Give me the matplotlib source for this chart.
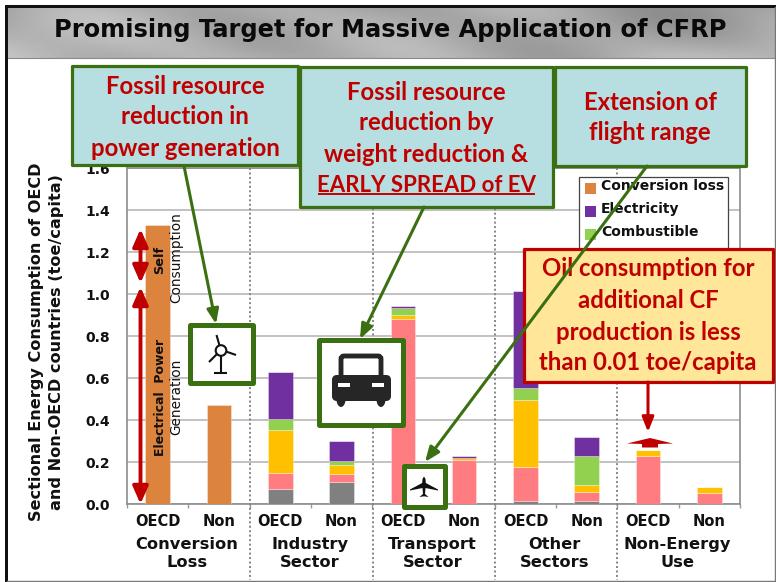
import numpy as np
import matplotlib
matplotlib.use("Agg")
import matplotlib.pyplot as plt
from matplotlib.patches import Rectangle, Polygon, Circle, Ellipse, FancyBboxPatch

W, H = 776, 582
bar_labels = ["OECD", "Non"] * 5
groups = ["Conversion\nLoss", "Industry\nSector", "Transport\nSector", "Other\nSectors", "Non-Energy\nUse"]
other = [0, 0, 0.073, 0.106, 0, 0, 0.014, 0.014, 0, 0.002]
oil_a = [0, 0, 0.077, 0.037, 0.881, 0.21, 0.162, 0.043, 0.23, 0.05]
oil_b = [0, 0, 0.202, 0.042, 0.019, 0.01, 0.319, 0.033, 0.027, 0.028]
combustible = [0, 0, 0.052, 0.02, 0.035, 0.0, 0.057, 0.138, 0, 0]
electricity = [0, 0, 0.224, 0.095, 0.008, 0.008, 0.462, 0.091, 0, 0]
conversion = [1.33, 0.47, 0, 0, 0, 0, 0, 0, 0, 0]
series = [(other, "#808080"), (oil_a, "#FF7C80"), (oil_b, "#FFC000"),
          (combustible, "#92D050"), (electricity, "#7030A0"), (conversion, "#DC843E")]
yticks = [0.0, 0.2, 0.4, 0.6, 0.8, 1.0, 1.2, 1.4, 1.6]

GREEN, RED = "#3B7012", "#C00000"
TEAL, CREAM = "#B7DEE1", "#FFE699"
LAB = "#111111"
FB = "DejaVu Sans"
CAL = "Lato"

fig = plt.figure(figsize=(W/100, H/100), dpi=100, facecolor="white")

ax = fig.add_axes([127/W, 1-504/H, 613/W, 336/H], zorder=1)
x = np.arange(10)
bottom = np.zeros(10)
for vals, col in series:
    v = np.array(vals)
    ax.bar(x, v, 0.4, bottom=bottom, color=col, edgecolor="#FFFFFF60", linewidth=0.6, zorder=3)
    bottom += v
ax.set_xlim(-0.5, 9.5)
ax.set_ylim(0, 1.6)
ax.set_yticks(yticks, [f"{t:.1f}" for t in yticks], fontsize=10, fontweight="bold", color=LAB, family=FB)
ax.set_xticks(x, bar_labels, fontsize=10.5, fontweight="bold", color=LAB, family=FB)
ax.set_xticks(np.arange(-0.5, 10), minor=True)
ax.tick_params(axis="y", length=0, pad=12)
ax.tick_params(axis="x", which="major", length=0, pad=7.5)
ax.tick_params(axis="x", which="minor", length=3, color="#999999", width=1)
ax.grid(axis="y", color="#BDBDBD", lw=1.3, zorder=0)
ax.set_axisbelow(True)
for s in ax.spines.values():
    s.set_color("#8C8C8C"); s.set_linewidth(1.2)
for i, g in enumerate(groups):
    ax.text(2*i + 0.5 - 0.02, -0.155, g, ha="center", va="top", fontsize=11.7, fontweight="bold",
            color=LAB, family=FB, linespacing=1.3, clip_on=False)

# overlay in pixel coordinates
ov = fig.add_axes([0, 0, 1, 1], zorder=5, facecolor="none")
ov.set_xlim(0, W); ov.set_ylim(H, 0); ov.axis("off")

ov.text(46.5, 342, "Sectional Energy Consumption of OECD\nand Non-OECD countries (toe/capita)", rotation=90,
        ha="center", va="center", ma="center", fontsize=11.6, fontweight="bold", color=LAB, family=FB, linespacing=1.42)

def rect(x0, y0, x1, y1, fc, ec="none", lw=0, z=2):
    ov.add_patch(Rectangle((x0, y0), x1-x0, y1-y0, fc=fc, ec=ec, lw=lw, zorder=z))

def px(p):
    return p*0.72

# header
yy, xx = np.mgrid[0:51, 0:769]
tex = 172 + 16*np.sin(xx/90 + yy/25) * np.cos(xx/210) + 10*np.sin(xx/37 - yy/14) + 14*(yy/51 - 0.5)
ov.imshow(tex, extent=(7, 776, 58, 7), cmap="gray", vmin=0, vmax=255, aspect="auto", zorder=1)
ov.set_xlim(0, W); ov.set_ylim(H, 0)
ov.plot([7, 776], [58, 58], color="#8A8A8A", lw=0.8, zorder=2)
rect(5, 5, 776, 7.5, "#111111", z=3)
rect(5, 5, 7.5, 582, "#111111", z=3)
ov.plot([7, 776], [580.8, 580.8], color="#777777", lw=1, zorder=3)
ov.plot([775.4, 775.4], [7, 582], color="#777777", lw=1, zorder=3)
ov.text(390.5, 30.5, "Promising Target for Massive Application of CFRP", ha="center", va="center",
        fontsize=17.35, fontweight="bold", color="#0A0A0A", family=FB, zorder=4)

# group separators
for sx in (250, 373, 495, 617):
    ov.plot([sx, sx], [168, 580], color="#858585", lw=1.4, ls=(0, (1.0, 1.3)), zorder=1.5)

# legend
rect(579, 177, 728, 252, "white", "#444444", 0.9, z=2)
for yc, c, t in zip((188.5, 211.5, 234.5), ("#DC843E", "#7030A0", "#92D050"),
                    ("Conversion loss", "Electricity", "Combustible")):
    rect(585, yc-5.5, 596, yc+5.5, c, z=2.1)
    ov.text(601, yc-2, t, ha="left", va="center", fontsize=10, fontweight="bold", color=LAB, family=FB, zorder=2.2)

# bar notes
for tx, ty, t, wt, fs in [(160, 260, "Self", "bold", 9.3), (176, 258, "Consumption", "normal", 9.8),
                          (160, 397, "Electrical  Power", "bold", 9.0), (176, 397, "Generation", "normal", 9.8)]:
    ov.text(tx, ty, t, rotation=90, ha="center", va="center", fontsize=fs, color="#111111",
            family=FB, fontweight=wt, zorder=2)

def dbl(y0, y1):
    ov.annotate("", xy=(140.5, y0), xytext=(140.5, y1), zorder=2.5,
                arrowprops=dict(arrowstyle="<|-|>,head_length=0.95,head_width=0.42", color=RED, lw=2.8, shrinkA=0, shrinkB=0, mutation_scale=11))
dbl(229, 283)
dbl(287, 504)

def box(x0, y0, x1, y1, fc, ec, lw=3.2, z=3):
    ov.add_patch(Rectangle((x0, y0), x1-x0, y1-y0, fc=fc, ec=ec, lw=px(lw)*1.0, zorder=z, joinstyle="round"))

box(72, 66, 298, 165, TEAL, GREEN)
box(300, 67, 553, 207, TEAL, GREEN, z=3.1)
box(555, 67, 746, 166, TEAL, GREEN)
box(524, 249, 773, 382, CREAM, RED)

def red(cx, lines, ys, fs=17.2):
    for l, y in zip(lines, ys):
        ov.text(cx, y, l, ha="center", va="center", fontsize=fs, fontweight="bold", color=RED, family=CAL, zorder=4)

red(185, ["Fossil resource", "reduction in", "power generation"], [86, 117, 148])
red(426, ["Fossil resource", "reduction by", "weight reduction &"], [92, 123, 154])
red(426.5, ["EARLY SPREAD of EV"], [185], fs=16)
ov.plot([319, 534], [194, 194], color=RED, lw=1.4, zorder=4)
red(650, ["Extension of", "flight range"], [102, 133])
red(648, ["Oil consumption for", "additional CF", "production is less", "than 0.01 toe/capita"], [269, 301, 333, 363])

# icon boxes
box(190, 325, 253, 383, "white", GREEN, lw=5)
box(319, 340, 403, 425, "white", GREEN, lw=5)
box(404, 466, 445, 507, "white", GREEN, lw=5)

# connecting arrows
def arrow(a, b, col=GREEN, lw=2.2):
    ov.annotate("", xy=b, xytext=a, zorder=6,
                arrowprops=dict(arrowstyle="-|>,head_length=0.8,head_width=0.32", color=col, lw=lw, shrinkA=0, shrinkB=0, mutation_scale=11))
arrow((184, 166), (216, 324))
arrow((424, 207), (360, 339))
arrow((647, 166), (425, 462))
arrow((648, 382), (648, 432), RED)

# up marker
ov.add_patch(Polygon([(627, 443.5), (650, 438), (673, 443.5), (658, 444), (658, 447.5), (642, 447.5), (642, 444)],
                     fc=RED, ec="none", zorder=5))

# turbine
k = "#111111"
ov.add_patch(Circle((221, 350.5), 5.3, fc="white", ec=k, lw=1.5, zorder=5))
for p, q in [((219.5, 345.5), (216.5, 335)), ((226, 351.5), (236, 355)), ((217, 354), (209, 362)), ((221, 356), (221, 373)), ((214, 373), (227, 373))]:
    ov.plot([p[0], q[0]], [p[1], q[1]], color=k, lw=1.5, zorder=5, solid_capstyle="butt")

# car
car = "#262626"
ov.add_patch(FancyBboxPatch((343, 358), 36, 20, boxstyle="round,pad=2,rounding_size=3", fc="white", ec=car, lw=3.5, zorder=5))
ov.add_patch(FancyBboxPatch((334, 377), 55, 22, boxstyle="round,pad=2,rounding_size=5", fc=car, ec="none", zorder=5.1))
for cx in (341, 381):
    ov.add_patch(Ellipse((cx, 398), 9.5, 18, fc=car, ec="none", zorder=5.2))
rect(338, 383, 350, 387, "white", z=5.3)
rect(372, 383, 384, 387, "white", z=5.3)

# plane
ov.add_patch(Polygon([(424, 476.5), (425.5, 479), (425.8, 483), (438, 489.5), (438, 490.5), (425.5, 488),
                      (425, 494), (428.5, 497), (424, 496.3), (419.5, 497), (423, 494), (422.5, 488),
                      (410, 490.5), (410, 489.5), (422.2, 483), (422.5, 479)],
                     fc="#111111", ec="none", zorder=5))

fig.savefig("out.png", dpi=100)
